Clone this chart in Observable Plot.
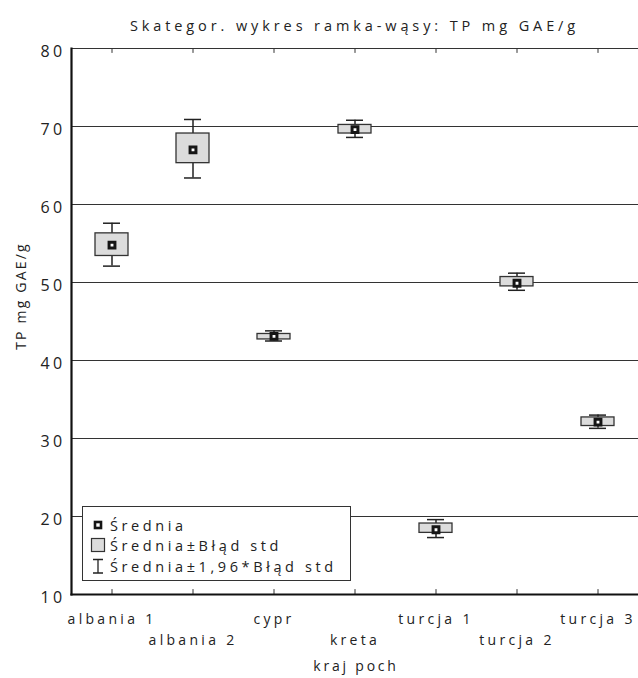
<!DOCTYPE html>
<html><head><meta charset="utf-8">
<script src="https://cdn.jsdelivr.net/npm/d3@7"></script>
<script src="https://cdn.jsdelivr.net/npm/@observablehq/plot@0.6"></script>
<style>
body{margin:0;background:#fff;font-family:"Open Sans",sans-serif;color:#222}
#wrap{position:relative;width:638px;height:678px;overflow:hidden}
#title{position:absolute;left:71px;width:567px;top:16px;text-align:center;font-size:14.5px;letter-spacing:3.9px;line-height:20px;white-space:nowrap}
#chart{position:absolute;left:0;top:40px}
#ylab{position:absolute;left:21px;top:296px;transform:translate(-50%,-50%) rotate(-90deg);font-size:14px;letter-spacing:2.2px;white-space:nowrap;line-height:18px}
#xlab{position:absolute;left:356px;top:666px;transform:translate(-50%,-50%);font-size:14px;letter-spacing:2.8px;white-space:nowrap;line-height:18px}
#legend{position:absolute;left:82px;top:506px;width:269px;height:75px;border:1px solid #333;background:#fff;box-sizing:border-box}
.row{position:absolute;left:6px;height:20px;display:flex;align-items:center;font-size:14.5px;letter-spacing:3.6px;white-space:nowrap}
.row svg{width:18px;height:18px;margin-right:3px;flex:none}
</style></head>
<body>
<div id="wrap">
  <div id="title"></div>
  <div id="chart"></div>
  <div id="ylab"></div>
  <div id="xlab"></div>
  <div id="legend"></div>
</div>
<script>
const titleText = "Skategor. wykres ramka-wąsy: TP mg GAE/g";
const yLabel = "TP mg GAE/g";
const xLabel = "kraj poch";
const categories = ["albania 1","albania 2","cypr","kreta","turcja 1","turcja 2","turcja 3"];
const means  = [54.8, 67.0, 43.1, 69.6, 18.3, 49.9, 32.1];
const seLow  = [53.4, 65.3, 42.7, 69.1, 17.9, 49.5, 31.6];
const seHigh = [56.3, 69.1, 43.4, 70.2, 19.1, 50.7, 32.7];
const ciLow  = [52.1, 63.4, 42.5, 68.6, 17.3, 49.0, 31.3];
const ciHigh = [57.6, 70.9, 43.8, 70.8, 19.6, 51.2, 33.0];
const yTicks = [10,20,30,40,50,60,70,80];
const gridTicks = [20,30,40,50,60,70];
const legendLabels = ["Średnia","Średnia±Błąd std","Średnia±1,96*Błąd std"];

const rows = categories.map((c,i)=>({cat:c, mean:means[i], seLow:seLow[i], seHigh:seHigh[i], ciLow:ciLow[i], ciHigh:ciHigh[i]}));
const rowA = categories.filter((c,i)=>i%2===0);
const rowB = categories.filter((c,i)=>i%2===1);

const tickShape = {draw(ctx, l){ ctx.moveTo(0,0); ctx.lineTo(0,-l); }};

document.getElementById("title").textContent = titleText;
document.getElementById("ylab").textContent = yLabel;
document.getElementById("xlab").textContent = xLabel;

const chart = Plot.plot({
  width: 638,
  height: 638,
  marginLeft: 71,
  marginRight: 0,
  marginTop: 8,
  marginBottom: 84,
  style: "font-family:'Open Sans',sans-serif;letter-spacing:3.3px;font-size:14px;color:#222;background:#fff;overflow:visible",
  x: {type:"band", domain: categories, padding: 0},
  y: {domain:[10,80]},
  marks: [
    Plot.ruleY(gridTicks, {stroke:"#333", strokeWidth:1}),
    Plot.ruleY([80], {stroke:"#333", strokeWidth:1}),
    Plot.vector(categories, {x: d=>d, y: ()=>10, length: 5, anchor:"start", shape: tickShape, stroke:"#333", strokeWidth:1}),
    Plot.vector(categories, {x: d=>d, y: ()=>80, length: 4, rotate: 180, anchor:"start", shape: tickShape, stroke:"#333", strokeWidth:1}),
    Plot.frame({anchor:"left", stroke:"#111", strokeWidth:2.2}),
    Plot.frame({anchor:"bottom", stroke:"#111", strokeWidth:2.2}),
    Plot.ruleX(rows, {x:"cat", y1:"ciLow", y2:"ciHigh", stroke:"#222", strokeWidth:1.5}),
    Plot.tickY(rows, {x:"cat", y:"ciLow", insetLeft:32, insetRight:32, stroke:"#222", strokeWidth:1.5}),
    Plot.tickY(rows, {x:"cat", y:"ciHigh", insetLeft:32, insetRight:32, stroke:"#222", strokeWidth:1.5}),
    Plot.barY(rows, {x:"cat", y1:"seLow", y2:"seHigh", fill:"#dcdcdc", stroke:"#333", strokeWidth:1.3, insetLeft:24, insetRight:24}),
    Plot.dot(rows, {x:"cat", y:"mean", symbol:"square", r:3.3, fill:"#fff", stroke:"#151515", strokeWidth:3}),
    Plot.axisY(yTicks, {tickSize:0, tickPadding:6, fontSize:16, dy:3, label:null, fill:"#222"}),
    Plot.axisX(rowA, {tickSize:0, tickPadding:20, fontSize:14, label:null, fill:"#222"}),
    Plot.axisX(rowB, {tickSize:0, tickPadding:41, fontSize:14, label:null, fill:"#222"})
  ]
});
document.getElementById("chart").appendChild(chart);

// legend
const leg = document.getElementById("legend");
const sw = [
  '<svg viewBox="0 0 18 18"><rect x="6" y="6" width="6" height="6" fill="#fff" stroke="#151515" stroke-width="2.6"/></svg>',
  '<svg viewBox="0 0 18 18"><rect x="2.5" y="2.5" width="13" height="13" fill="#dcdcdc" stroke="#333" stroke-width="1.2"/></svg>',
  '<svg viewBox="0 0 18 18"><path d="M4 2.5H14M9 2.5V16M4 16H14" stroke="#222" stroke-width="1.3" fill="none"/></svg>'
];
const tops = [8, 28, 49];
legendLabels.forEach((t,i)=>{
  const r = document.createElement("div");
  r.className = "row";
  r.style.top = tops[i] + "px";
  r.innerHTML = sw[i] + "<span></span>";
  r.querySelector("span").textContent = t;
  leg.appendChild(r);
});
</script>
</body></html>
